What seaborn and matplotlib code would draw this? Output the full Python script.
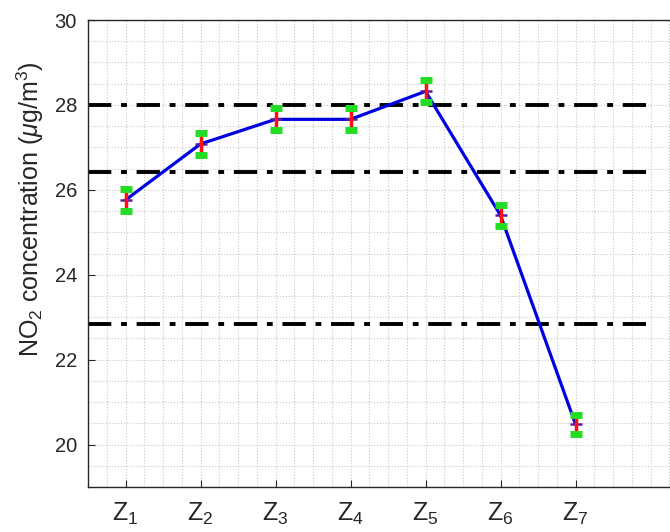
import matplotlib
matplotlib.use("Agg")
import matplotlib.pyplot as plt
import numpy as np
import pandas as pd
import seaborn as sns
from matplotlib.ticker import MultipleLocator

zones = [1, 2, 3, 4, 5, 6, 7]
zone_labels = [f"Z$_{i}$" for i in zones]
no2_mean = [25.76, 27.08, 27.66, 27.66, 28.32, 25.40, 20.48]
no2_err = [0.27, 0.26, 0.26, 0.26, 0.26, 0.25, 0.22]
thresholds = [28.0, 26.42, 22.85]

sns.set_theme(style="white")
plt.rcParams["font.family"] = ["Liberation Sans", "DejaVu Sans"]
plt.rcParams["mathtext.fontset"] = "custom"
plt.rcParams["mathtext.rm"] = "Liberation Sans"
plt.rcParams["mathtext.it"] = "Liberation Sans:italic"
plt.rcParams["mathtext.default"] = "regular"

df = pd.DataFrame({"zone": zones, "no2": no2_mean, "err": no2_err})

fig = plt.figure(figsize=(6.7, 5.32), dpi=100)
ax = fig.add_axes([88 / 670, 45 / 532, 600 / 670, 467 / 532])

ax.set_xlim(0.5, 8.5)
ax.set_ylim(19, 30)

# grid (matlab style: dotted major + minor)
ax.xaxis.set_minor_locator(MultipleLocator(0.25))
ax.yaxis.set_minor_locator(MultipleLocator(0.5))
ax.grid(True, which="both", color="#c8c8c8", linestyle=":", linewidth=0.8)
ax.set_axisbelow(True)

for t in thresholds:
    ax.plot([0.5, 8.0], [t, t], color="black", linestyle="-.", linewidth=2.8,
            dashes=(6, 2.5, 1.5, 2.5), zorder=2)

sns.lineplot(data=df, x="zone", y="no2", color="#0000e0", linewidth=2.3,
             marker="+", markersize=8, markeredgewidth=1.8,
             markeredgecolor="#5a1aa8", ax=ax, zorder=3)

eb = ax.errorbar(df["zone"], df["no2"], yerr=df["err"], fmt="none",
                 ecolor="#ff1010", elinewidth=2.5, capsize=4, capthick=4, zorder=4)
for cap in eb[1]:
    cap.set_color("#22dd22")
    cap.set_markeredgecolor("#22dd22")
    cap.set_markersize(8)
    cap.set_markeredgewidth(5)

ax.set_xticks(zones)
ax.set_xticklabels(zone_labels, fontsize=18, color="#262626")
ax.set_yticks([20, 22, 24, 26, 28, 30])
ax.tick_params(axis="y", labelsize=14.5, labelcolor="#262626")
ax.tick_params(which="major", direction="in", length=5, width=0.8, color="#262626",
               bottom=True, left=True)
ax.tick_params(which="minor", length=0)
ax.tick_params(axis="x", pad=10)
ax.tick_params(axis="y", pad=8)

ax.set_xlabel("")
ax.set_ylabel("NO$_2$ concentration ($\\mathit{\\mu}$g/m$^3$)", fontsize=18,
              color="#262626")
ax.yaxis.set_label_coords(-0.07, 0.595)

for side in ["left", "bottom", "top"]:
    ax.spines[side].set_color("#262626")
    ax.spines[side].set_linewidth(1.0)
ax.spines["right"].set_visible(False)

fig.savefig("out.png", dpi=100)
